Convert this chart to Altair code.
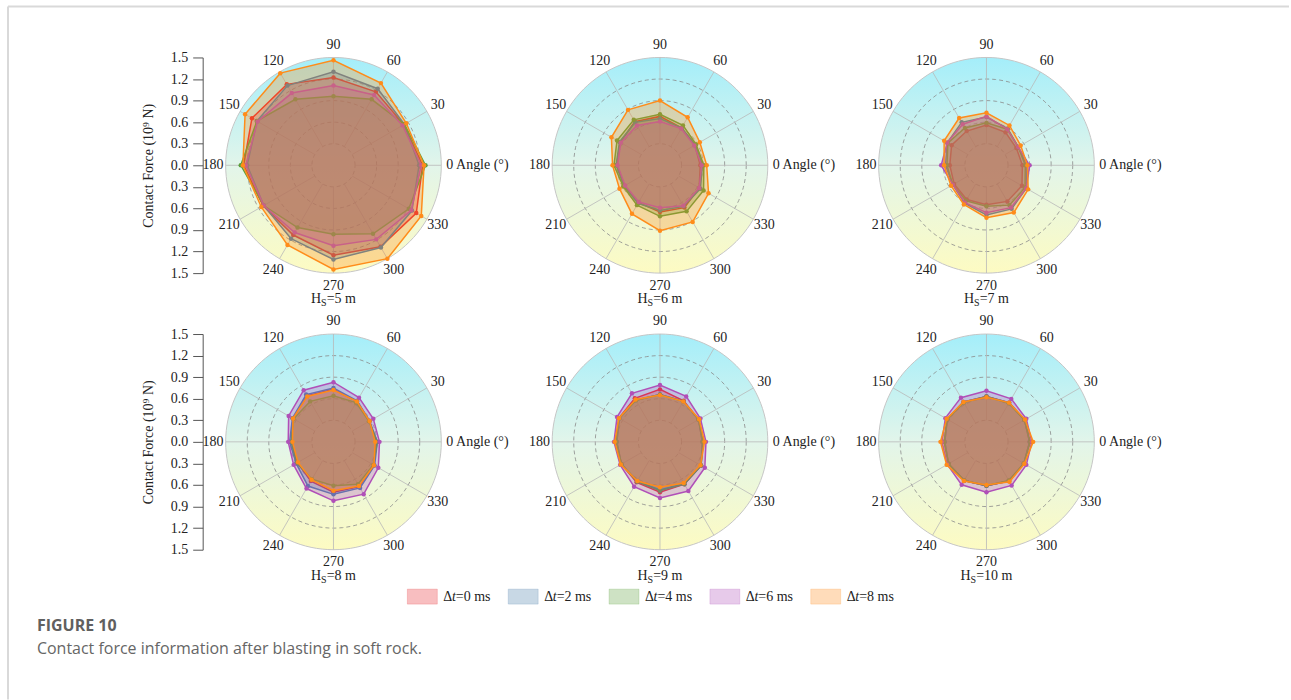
import altair as alt
import pandas as pd

# ---------------------------------------------------------------- data
ANGLES = [0, 30, 60, 90, 120, 150, 180, 210, 240, 270, 300, 330]
ANGLE_TEXT = ["0 Angle (°)", "30", "60", "90", "120", "150", "180",
              "210", "240", "270", "300", "330"]
DELAYS = ["0", "2", "4", "6", "8"]
LEGEND_TEXT = ["=0 ms", "=2 ms", "=4 ms", "=6 ms", "=8 ms"]
HS_TEXT = ["5", "6", "7", "8", "9", "10"]
COLORS = ["#e8292f", "#4a7ea8", "#5c9e3c", "#b04fb8", "#ff8c1a"]
RING_LEVELS = [0.3, 0.6, 0.9, 1.2]
OUTER = 1.5
Y_TICKS = [-1.5, -1.2, -0.9, -0.6, -0.3, 0.0, 0.3, 0.6, 0.9, 1.2, 1.5]

# contact force (10^9 N) at each angle; one row per delay (0, 2, 4, 6, 8 ms)
HS5 = [
    [1.24, 1.13, 1.18, 1.22, 1.30, 1.31, 1.25, 1.13, 1.12, 1.25, 1.31, 1.33],
    [1.19, 1.14, 1.23, 1.30, 1.28, 1.23, 1.20, 1.12, 1.18, 1.31, 1.32, 1.26],
    [1.28, 1.14, 1.06, 0.96, 1.06, 1.23, 1.29, 1.12, 1.00, 0.96, 1.10, 1.21],
    [1.22, 1.11, 1.13, 1.11, 1.16, 1.22, 1.22, 1.12, 1.08, 1.12, 1.19, 1.25],
    [1.26, 1.17, 1.32, 1.46, 1.48, 1.42, 1.26, 1.16, 1.28, 1.45, 1.50, 1.41],
]
HS6 = [
    [0.56, 0.56, 0.60, 0.68, 0.70, 0.64, 0.60, 0.57, 0.60, 0.65, 0.68, 0.63],
    [0.59, 0.57, 0.60, 0.65, 0.69, 0.65, 0.61, 0.58, 0.61, 0.63, 0.66, 0.65],
    [0.61, 0.58, 0.64, 0.71, 0.73, 0.69, 0.64, 0.59, 0.64, 0.71, 0.74, 0.70],
    [0.58, 0.55, 0.59, 0.61, 0.64, 0.63, 0.59, 0.56, 0.59, 0.59, 0.65, 0.63],
    [0.65, 0.64, 0.77, 0.90, 0.89, 0.78, 0.66, 0.65, 0.78, 0.91, 0.91, 0.78],
]
HS7 = [
    [0.50, 0.48, 0.53, 0.56, 0.55, 0.56, 0.51, 0.52, 0.55, 0.55, 0.58, 0.57],
    [0.56, 0.51, 0.59, 0.67, 0.69, 0.63, 0.57, 0.54, 0.61, 0.69, 0.70, 0.64],
    [0.54, 0.51, 0.58, 0.59, 0.60, 0.62, 0.55, 0.54, 0.57, 0.57, 0.64, 0.62],
    [0.60, 0.51, 0.58, 0.68, 0.66, 0.63, 0.63, 0.54, 0.60, 0.66, 0.68, 0.64],
    [0.57, 0.55, 0.64, 0.73, 0.76, 0.68, 0.59, 0.57, 0.63, 0.73, 0.76, 0.67],
]
HS8 = [
    [0.59, 0.58, 0.65, 0.73, 0.74, 0.65, 0.58, 0.58, 0.63, 0.70, 0.72, 0.65],
    [0.61, 0.58, 0.66, 0.75, 0.76, 0.66, 0.61, 0.60, 0.71, 0.73, 0.74, 0.66],
    [0.61, 0.57, 0.63, 0.64, 0.65, 0.64, 0.59, 0.59, 0.60, 0.61, 0.68, 0.64],
    [0.64, 0.64, 0.71, 0.83, 0.83, 0.72, 0.63, 0.64, 0.75, 0.82, 0.84, 0.72],
    [0.58, 0.58, 0.65, 0.72, 0.73, 0.65, 0.57, 0.57, 0.61, 0.68, 0.71, 0.65],
]
HS9 = [
    [0.59, 0.62, 0.66, 0.73, 0.70, 0.66, 0.60, 0.62, 0.65, 0.70, 0.68, 0.66],
    [0.59, 0.62, 0.65, 0.66, 0.67, 0.65, 0.60, 0.62, 0.63, 0.67, 0.67, 0.66],
    [0.60, 0.62, 0.65, 0.66, 0.67, 0.66, 0.61, 0.62, 0.64, 0.68, 0.68, 0.66],
    [0.64, 0.65, 0.73, 0.79, 0.78, 0.69, 0.64, 0.64, 0.72, 0.78, 0.79, 0.72],
    [0.62, 0.63, 0.65, 0.65, 0.68, 0.66, 0.63, 0.63, 0.63, 0.63, 0.66, 0.65],
]
HS10 = [
    [0.60, 0.61, 0.63, 0.63, 0.64, 0.63, 0.58, 0.61, 0.62, 0.61, 0.63, 0.60],
    [0.60, 0.61, 0.63, 0.63, 0.64, 0.63, 0.58, 0.61, 0.62, 0.61, 0.63, 0.60],
    [0.61, 0.61, 0.62, 0.63, 0.63, 0.63, 0.59, 0.61, 0.62, 0.61, 0.62, 0.60],
    [0.63, 0.64, 0.69, 0.71, 0.71, 0.66, 0.62, 0.63, 0.69, 0.70, 0.70, 0.64],
    [0.65, 0.62, 0.63, 0.62, 0.64, 0.64, 0.64, 0.64, 0.63, 0.60, 0.64, 0.61],
]
PANELS = [HS5, HS6, HS7, HS8, HS9, HS10]

# ---------------------------------------------------------------- style
SERIF = "Liberation Serif"
SANS = "Open Sans"
INK = "#222222"
SIZE = 216            # plot diameter in px
FILL_OPACITY = 0.3
LABEL_R = 1.675       # radius of the angle labels (data units)
CIRCLE_STEP = 3       # degrees between vertices of the grid circles

GRADIENT = alt.LinearGradient(
    gradient="linear",
    stops=[alt.GradientStop(offset=0, color="#a4eefa"),
           alt.GradientStop(offset=0.5, color="#e2f5ea"),
           alt.GradientStop(offset=1, color="#fdfbc2")],
    x1=0, x2=0, y1=0, y2=1)

xsc = alt.Scale(domain=[-OUTER, OUTER], nice=False, zero=False)
ysc = alt.Scale(domain=[-OUTER, OUTER], nice=False, zero=False)

RAD = "PI / 180"

# grid circles, traced as closed polylines in data space
circle_rows = [{"level": lv, "deg": d}
               for lv in RING_LEVELS + [OUTER]
               for d in range(0, 361, CIRCLE_STEP)]
CIRCLES = pd.DataFrame(circle_rows)


def y_axis():
    return alt.Axis(values=Y_TICKS,
                    labelExpr="format(abs(datum.value), '.1f')",
                    title="Contact Force (10⁹ N)", offset=23, tickSize=10,
                    grid=False, domainColor="#555555", tickColor="#555555",
                    labelFont=SERIF, labelFontSize=14, labelColor=INK,
                    labelPadding=5, labelOverlap=False,
                    titleFont=SERIF, titleFontSize=14, titleFontWeight="normal",
                    titleColor=INK, titlePadding=15)


def xy(xf, yf, axis=None):
    return dict(x=alt.X(f"{xf}:Q", scale=xsc, axis=None),
                y=alt.Y(f"{yf}:Q", scale=ysc, axis=axis))


def radar(k, with_axis):
    values = PANELS[k]
    rows = []
    for d, vals in zip(DELAYS, values):
        for i in range(13):          # repeat the first vertex to close the polygon
            rows.append({"delay": d, "idx": i, "angle": ANGLES[i % 12],
                         "force": vals[i % 12]})
    df = pd.DataFrame(rows)

    circ = alt.Chart(CIRCLES).transform_calculate(
        cx=f"datum.level * cos(datum.deg * {RAD})",
        cy=f"datum.level * sin(datum.deg * {RAD})")
    disk = circ.transform_filter(f"datum.level == {OUTER}").mark_line(
        fill=GRADIENT, stroke="#c6c6c6", strokeWidth=1).encode(
        order=alt.Order("deg:Q"), **xy("cx", "cy"))
    rings = circ.transform_filter(f"datum.level < {OUTER}").mark_line(
        stroke="#8a8a8a", strokeWidth=0.8, strokeDash=[4, 3]).encode(
        detail="level:N", order=alt.Order("deg:Q"), **xy("cx", "cy"))

    spokes = alt.Chart(pd.DataFrame({"angle": ANGLES})).transform_calculate(
        x1=f"{RING_LEVELS[0]} * cos(datum.angle * {RAD})",
        y1=f"{RING_LEVELS[0]} * sin(datum.angle * {RAD})",
        x2=f"{OUTER} * cos(datum.angle * {RAD})",
        y2=f"{OUTER} * sin(datum.angle * {RAD})",
    ).mark_rule(color="#b9b9b9", strokeWidth=0.8).encode(
        x2="x2:Q", y2="y2:Q",
        **xy("x1", "y1", y_axis() if with_axis else None))

    layers = [disk, rings, spokes]

    polar = alt.Chart(df).transform_calculate(
        px=f"datum.force * cos(datum.angle * {RAD})",
        py=f"datum.force * sin(datum.angle * {RAD})")
    for d, col in zip(DELAYS, COLORS):
        one = polar.transform_filter(f"datum.delay == '{d}'")
        layers.append(one.mark_line(fill=col, fillOpacity=FILL_OPACITY,
                                    stroke=col, strokeWidth=1.5).encode(
            order=alt.Order("idx:Q"), **xy("px", "py")))
        layers.append(one.transform_filter("datum.idx < 12").mark_circle(
            size=20, color=col, opacity=1).encode(**xy("px", "py")))

    labels = alt.Chart(pd.DataFrame({"angle": ANGLES, "text": ANGLE_TEXT}))
    lab_mid = labels.transform_filter(
        "datum.angle != 0 && datum.angle != 180").transform_calculate(
        lx=f"{LABEL_R} * cos(datum.angle * {RAD})",
        ly=f"{LABEL_R} * sin(datum.angle * {RAD})",
    ).mark_text(font=SERIF, fontSize=14, color=INK, align="center",
                baseline="middle").encode(text="text:N", **xy("lx", "ly"))
    lab_0 = labels.transform_filter("datum.angle == 0").transform_calculate(
        lx="1.57", ly="0"
    ).mark_text(font=SERIF, fontSize=14, color=INK, align="left",
                baseline="middle").encode(text="text:N", **xy("lx", "ly"))
    lab_180 = labels.transform_filter("datum.angle == 180").transform_calculate(
        lx="-1.53", ly="0"
    ).mark_text(font=SERIF, fontSize=14, color=INK, align="right",
                baseline="middle").encode(text="text:N", **xy("lx", "ly"))
    layers += [lab_mid, lab_0, lab_180]

    # panel caption  H_S = x m
    rest = "=" + HS_TEXT[k] + " m"
    w_rest = 7.9 + 7.0 * len(HS_TEXT[k]) + 3.5 + 10.9
    total = 10.1 + 5.6 + w_rest
    start = -total / 2
    cap = alt.Chart(pd.DataFrame({"h": ["H"], "s": ["S"], "rest": [rest]})
                    ).transform_calculate(cx="0", cy="-1.86")
    layers.append(cap.mark_text(font=SERIF, fontSize=14, color=INK,
                                align="left", baseline="middle",
                                dx=start).encode(text="h:N", **xy("cx", "cy")))
    layers.append(cap.mark_text(font=SERIF, fontSize=10, color=INK,
                                align="left", baseline="middle",
                                dx=start + 10.1, dy=4).encode(text="s:N",
                                                              **xy("cx", "cy")))
    layers.append(cap.mark_text(font=SERIF, fontSize=14, color=INK,
                                align="left", baseline="middle",
                                dx=start + 15.7).encode(text="rest:N",
                                                        **xy("cx", "cy")))

    return alt.layer(*layers).properties(width=SIZE, height=SIZE).resolve_axis(
        x="independent", y="independent")


# ---------------------------------------------------------------- footer
leg = pd.DataFrame({"delay": DELAYS, "rest": LEGEND_TEXT,
                    "d": ["Δ"] * 5, "t": ["t"] * 5})
lx = alt.X("delay:N", scale=alt.Scale(type="point", domain=DELAYS,
                                       range=[197, 601], padding=0), axis=None)
swatch_fill = alt.Fill("delay:N", scale=alt.Scale(domain=DELAYS, range=COLORS),
                       legend=None)
swatch_stroke = alt.Stroke("delay:N", scale=alt.Scale(domain=DELAYS, range=COLORS),
                           legend=None)
swatches = alt.Chart(leg).mark_point(
    shape="M-1,-0.5L1,-0.5L1,0.5L-1,0.5Z", size=900, filled=True,
    fillOpacity=FILL_OPACITY, strokeOpacity=0.25, strokeWidth=0.8
).encode(x=lx, y=alt.value(-14), fill=swatch_fill, stroke=swatch_stroke)
leg_d = alt.Chart(leg).mark_text(font=SERIF, fontSize=14, color=INK,
                                 align="left", baseline="middle", dx=21).encode(
    x=lx, y=alt.value(-14), text="d:N")
leg_t = alt.Chart(leg).mark_text(font=SERIF, fontSize=14, color=INK,
                                 fontStyle="italic", align="left",
                                 baseline="middle", dx=29.6).encode(
    x=lx, y=alt.value(-14), text="t:N")
leg_r = alt.Chart(leg).mark_text(font=SERIF, fontSize=14, color=INK,
                                 align="left", baseline="middle", dx=33.5).encode(
    x=lx, y=alt.value(-14), text="rest:N")

one_row = pd.DataFrame({"fig": ["FIGURE 10"],
                        "cap": ["Contact force information after blasting in soft rock."]})
fig_title = alt.Chart(one_row).mark_text(
    font=SANS, fontSize=16, fontWeight="bold", color="#606060", align="left",
    baseline="middle").encode(x=alt.value(-189), y=alt.value(15), text="fig:N")
fig_caption = alt.Chart(one_row).mark_text(
    font=SANS, fontSize=16, color="#666666", align="left",
    baseline="middle").encode(x=alt.value(-189), y=alt.value(38), text="cap:N")
frame_top = alt.Chart(one_row).mark_rule(color="#d9d9d9", strokeWidth=2).encode(
    x=alt.value(-218), x2=alt.value(1065), y=alt.value(-605))
frame_left = alt.Chart(one_row).mark_rule(color="#d9d9d9", strokeWidth=2).encode(
    x=alt.value(-218), y=alt.value(-605), y2=alt.value(89))

footer = alt.layer(frame_top, frame_left, swatches, leg_d, leg_t, leg_r,
                   fig_title, fig_caption).properties(width=SIZE, height=40)

panels = [radar(k, k % 3 == 0) for k in range(6)]

chart = alt.concat(
    *panels, footer, columns=3,
    spacing=alt.RowColnumber(row=61, column=111), bounds="flush"
).properties(
    padding={"left": 6, "top": 4, "right": 0, "bottom": 0}
).configure(background="white").configure_view(stroke="transparent")

chart.save("out.html", embed_options={"renderer": "svg", "actions": False})
